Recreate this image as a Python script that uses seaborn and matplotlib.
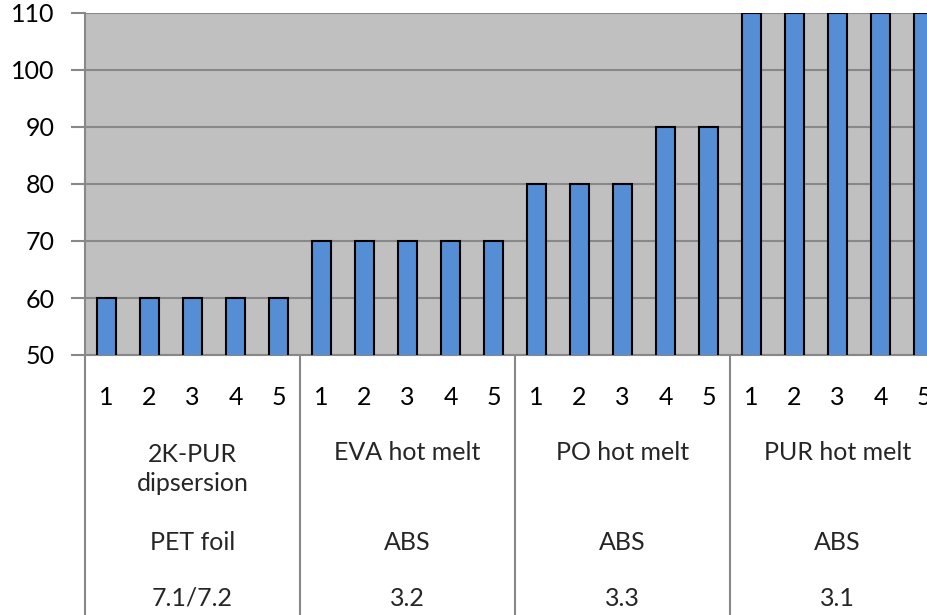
import matplotlib
matplotlib.use("Agg")
import matplotlib.pyplot as plt
import matplotlib.transforms as mtransforms
import seaborn as sns
import pandas as pd

# ---- data ----
groups = ["2K-PUR\ndipsersion", "EVA hot melt", "PO hot melt", "PUR hot melt"]
substrates = ["PET foil", "ABS", "ABS", "ABS"]
sections = ["7.1/7.2", "3.2", "3.3", "3.1"]
sample_labels = ["1", "2", "3", "4", "5"]
values_2kpur = [60, 60, 60, 60, 60]
values_eva = [70, 70, 70, 70, 70]
values_po = [80, 80, 80, 90, 90]
values_pur = [110, 110, 110, 110, 110]
y_ticks = [50, 60, 70, 80, 90, 100, 110]

all_vals = [values_2kpur, values_eva, values_po, values_pur]
rows = []
for gi, vals in enumerate(all_vals):
    for si, v in enumerate(vals):
        rows.append({"cat": f"{gi}-{sample_labels[si]}", "sample": sample_labels[si], "value": v})
df = pd.DataFrame(rows)

sns.set_theme(style="white")
plt.rcParams["font.family"] = ["Lato", "DejaVu Sans"]
FS = 18

W, H = 927, 615
fig = plt.figure(figsize=(W / 100, H / 100), dpi=100)
left_px, right_px, top_px, bot_px = 85, 945, 13, 355
ax = fig.add_axes([left_px / W, (H - bot_px) / H, (right_px - left_px) / W, (bot_px - top_px) / H])
ax.set_facecolor("#C0C0C0")

sns.barplot(data=df, x="cat", y="value", order=list(df["cat"]), color="#558ED5",
            saturation=1, width=0.44, edgecolor="black", linewidth=1.5, ax=ax, zorder=3)

ax.set_xlim(-0.5, len(df) - 0.5)
ax.set_ylim(50, 110)
ax.set_yticks(y_ticks)
ax.set_yticklabels([str(t) for t in y_ticks], fontsize=FS, color="black")
ax.tick_params(axis="y", length=10, width=1.5, color="#888888", pad=12, left=True)
ax.yaxis.grid(True, color="#888888", linewidth=1.5, zorder=1)
ax.set_axisbelow(True)

ax.set_xticks(range(len(df)))
ax.set_xticklabels(list(df["sample"]), fontsize=FS, color="black")
ax.tick_params(axis="x", length=0, pad=22)
ax.set_xlabel("")
ax.set_ylabel("")

for s in ["top", "right"]:
    ax.spines[s].set_visible(False)
for s in ["left", "bottom"]:
    ax.spines[s].set_color("#888888")
    ax.spines[s].set_linewidth(1.5)

trans = mtransforms.blended_transform_factory(ax.transData, ax.transAxes)
axh = bot_px - top_px
ybot = -(H - bot_px) / axh
# separators
for gi in range(len(groups) + 1):
    xb = gi * 5 - 0.5
    ax.plot([xb, xb], [0, ybot], transform=trans, color="#888888", linewidth=1.5, clip_on=False)

def yax(py):
    return (bot_px - py) / axh

for gi in range(len(groups)):
    xc = gi * 5 + 2
    if "\n" in groups[gi]:
        ax.text(xc, yax(469), groups[gi], transform=trans, ha="center", va="center",
                fontsize=FS, linespacing=1.3)
    else:
        ax.text(xc, yax(452), groups[gi], transform=trans, ha="center", va="center", fontsize=FS)
    ax.text(xc, yax(543), substrates[gi], transform=trans, ha="center", va="center", fontsize=FS)
    ax.text(xc, yax(598), sections[gi], transform=trans, ha="center", va="center", fontsize=FS)

fig.savefig("out.png", dpi=100)
